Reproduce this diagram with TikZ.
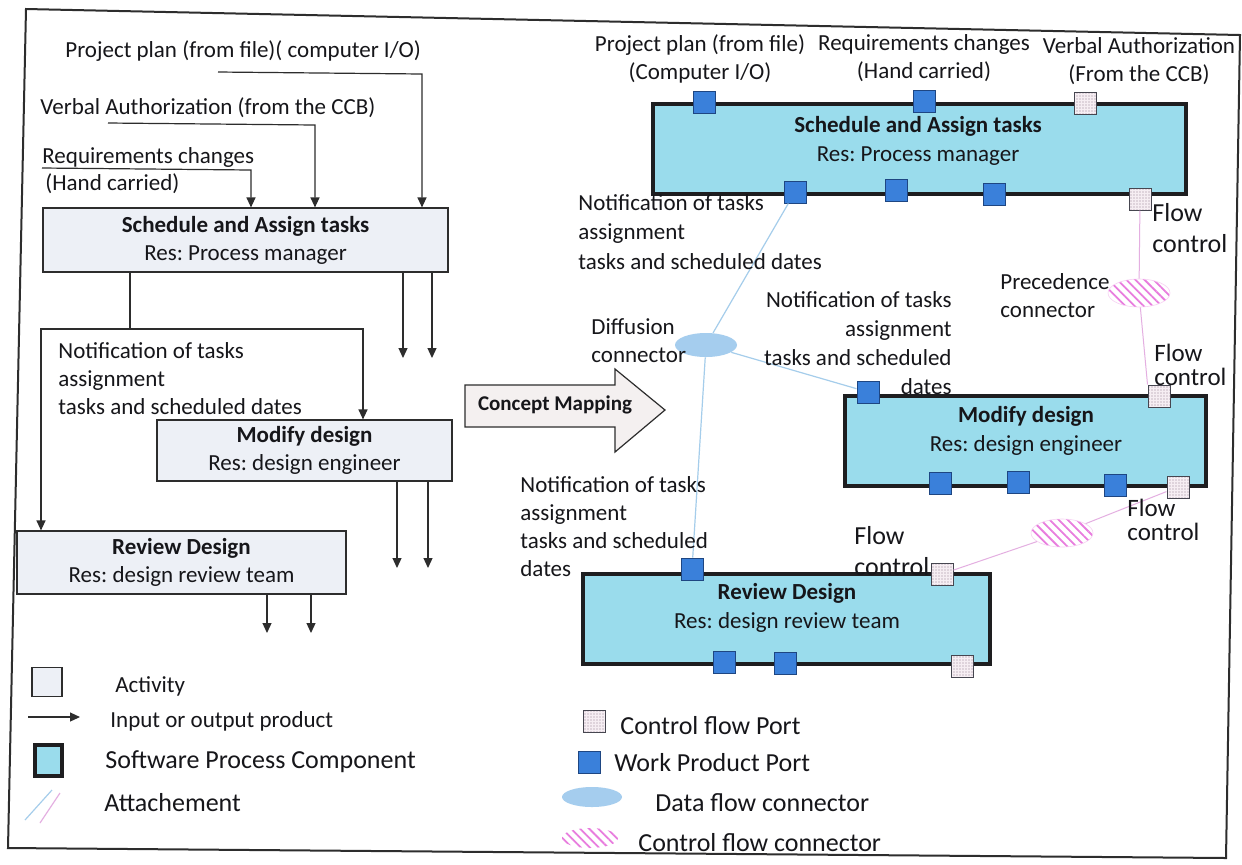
\documentclass[tikz,border=0pt]{standalone}
\usepackage{fontspec}
\setmainfont{Carlito}
\frenchspacing
\usetikzlibrary{arrows.meta,patterns.meta,shapes.geometric}

\definecolor{ink}{RGB}{45,45,45}
\definecolor{textc}{RGB}{22,22,26}
\definecolor{actfill}{RGB}{237,240,246}
\definecolor{spcfill}{RGB}{154,220,236}
\definecolor{spcedge}{RGB}{30,30,32}
\definecolor{portblue}{RGB}{58,128,218}
\definecolor{portedge}{RGB}{30,70,130}
\definecolor{ctrlfill}{RGB}{246,238,243}
\definecolor{dotc}{RGB}{150,128,145}
\definecolor{cportedge}{RGB}{70,70,80}
\definecolor{dataconn}{RGB}{165,205,238}
\definecolor{linkblue}{RGB}{165,205,235}
\definecolor{linkpink}{RGB}{228,175,225}
\definecolor{hatchpink}{RGB}{232,125,222}
\definecolor{mapfill}{RGB}{244,240,240}

\tikzset{
  lbl/.style={font=\fontsize{11.5}{14}\selectfont, inner sep=0pt, text=textc},
  lblbig/.style={font=\fontsize{13}{15.5}\selectfont, inner sep=0pt, text=textc},
  activity/.style={draw=ink, line width=0.6pt, fill=actfill, align=center,
    font=\fontsize{11.5}{14}\selectfont, text=textc, inner sep=0pt},
  spc/.style={draw=spcedge, line width=1.6pt, fill=spcfill, inner sep=0pt},
  spctext/.style={align=center, font=\fontsize{11.5}{14.8}\selectfont, text=textc, inner sep=0pt},
  wport/.style={draw=portedge, line width=0.5pt, fill=portblue, minimum size=11pt, inner sep=0pt},
  cport/.style={draw=cportedge, line width=0.5pt, minimum size=11pt, inner sep=0pt,
    preaction={fill=ctrlfill}, pattern={Dots[radius=0.33pt,distance=1.5pt]}, pattern color=dotc},
  prodarrow/.style={draw=ink, line width=0.6pt, -{Triangle[length=5pt,width=4.5pt]}},
  prodline/.style={draw=ink, line width=0.6pt},
  dlink/.style={draw=linkblue, line width=0.6pt},
  clink/.style={draw=linkpink, line width=0.5pt},
  dconn/.style={ellipse, fill=dataconn, minimum width=31pt, minimum height=12pt, inner sep=0pt},
  cconn/.style={ellipse, minimum width=31pt, minimum height=14pt, inner sep=0pt,
    pattern={Lines[angle=-45,distance=3.2pt,line width=0.9pt]}, pattern color=hatchpink,
    draw=hatchpink!35, line width=0.3pt},
}

\begin{document}
\begin{tikzpicture}[x=0.5pt, y=-0.5pt]
\fill[white] (0,0) rectangle (1242,864);
\useasboundingbox (0,0) rectangle (1242,864);

% outer frame
\draw[ink, line width=1pt] (26,9) -- (1240,35) -- (1226,858) -- (8,848) -- cycle;

% ---------------- activity view ----------------
\node[activity, minimum width=202.5pt, minimum height=32pt] (a1) at (245.5,240)
  {\textbf{Schedule and Assign tasks}\\Res: Process manager};
\node[activity, minimum width=147.5pt, minimum height=30.5pt] (a2) at (304.5,450.5)
  {\textbf{Modify design}\\Res: design engineer};
\node[activity, minimum width=164.5pt, minimum height=31.5pt] (a3) at (181.5,562.5)
  {\textbf{Review Design}\\Res: design review team};

% input labels
\node[lbl, anchor=west] (lpp) at (65,51) {Project plan (from file)( computer I/O)};
\node[lbl, anchor=west] (lva) at (40,108) {Verbal Authorization (from the CCB)};
\node[lbl, anchor=west] (lrc) at (42,157) {Requirements changes};
\node[lbl, anchor=west] (lhc) at (45,184) {(Hand carried)};
\node[lbl, anchor=west, align=left] (lnt) at (58,379)
  {Notification of tasks\\assignment\\tasks and scheduled dates};

% input flows
\coordinate (pp0) at (218,72);  \coordinate (pp1) at (422,74);
\coordinate (va0) at (108,123); \coordinate (va1) at (315,125);
\coordinate (rc0) at (42,168);  \coordinate (rc1) at (251,170);
\draw[prodarrow] (pp0) -- (pp1) -- (pp1 |- a1.north);
\draw[prodarrow] (va0) -- (va1) -- (va1 |- a1.north);
\draw[prodarrow] (rc0) -- (rc1) -- (rc1 |- a1.north);

% notification flow
\coordinate (n0) at (130,329); \coordinate (nL) at (41,329); \coordinate (nR) at (363,329);
\draw[prodline] (n0 |- a1.south) -- (n0);
\draw[prodarrow] (n0) -- (nL) -- (nL |- a3.north);
\draw[prodarrow] (n0) -- (nR) -- (nR |- a2.north);

% output flows
\coordinate (o1) at (403,358); \coordinate (o2) at (432,358);
\coordinate (o3) at (397,568); \coordinate (o4) at (428,568);
\coordinate (o5) at (267,633); \coordinate (o6) at (311,633);
\draw[prodarrow] (o1 |- a1.south) -- (o1);
\draw[prodarrow] (o2 |- a1.south) -- (o2);
\draw[prodarrow] (o3 |- a2.south) -- (o3);
\draw[prodarrow] (o4 |- a2.south) -- (o4);
\draw[prodarrow] (o5 |- a3.south) -- (o5);
\draw[prodarrow] (o6 |- a3.south) -- (o6);

% ---------------- concept mapping arrow ----------------
\draw[ink, line width=0.6pt, fill=mapfill]
  (465,385) -- (615,385) -- (615,369) -- (665,410) -- (615,452) -- (615,427) -- (465,427) -- cycle;
\node[inner sep=0pt, text=textc, font=\bfseries\fontsize{10.5}{12}\selectfont] (cm) at (555,405) {Concept Mapping};

% ---------------- component view ----------------
\node[spc, minimum width=266.5pt, minimum height=45pt] (s1) at (919.5,149) {};
\node[spctext] (s1t) at (918,141) {\textbf{Schedule and Assign tasks}\\Res: Process manager};
\node[spc, minimum width=180.5pt, minimum height=45pt] (m1) at (1025.5,441) {};
\node[spctext] (m1t) at (1026,431) {\textbf{Modify design}\\Res: design engineer};
\node[spc, minimum width=203.5pt, minimum height=45pt] (r1) at (786.5,619) {};
\node[spctext] (r1t) at (787,608) {\textbf{Review Design}\\Res: design review team};

% ports of Schedule and Assign tasks
\node[wport] (st1) at (704,102) {};
\node[wport] (st2) at (924,101) {};
\node[cport] (stc) at (1085,103) {};
\node[wport] (sb1) at (795,192) {};
\node[wport] (sb2) at (896,190) {};
\node[wport] (sb3) at (994,194) {};
\node[cport] (sbc) at (1140,199) {};
% ports of Modify design
\node[wport] (mt1) at (868,392) {};
\node[cport] (mtc) at (1159,396) {};
\node[wport] (mb1) at (940,483) {};
\node[wport] (mb2) at (1018,482) {};
\node[wport] (mb3) at (1115,485) {};
\node[cport] (mbc) at (1178,487) {};
% ports of Review Design
\node[wport] (rt1) at (692,569) {};
\node[cport] (rtc) at (942,574) {};
\node[wport] (rb1) at (724,662) {};
\node[wport] (rb2) at (785,663) {};
\node[cport] (rbc) at (962,666) {};

% connectors
\node[dconn] (dif) at (706,345) {};
\node[cconn] (p1) at (1139,293) {};
\node[cconn] (p2) at (1062,533) {};

\draw[dlink] (sb1) -- (dif);
\draw[dlink] (dif) -- (mt1);
\draw[dlink] (dif) -- (rt1);
\draw[clink] (sbc) -- (p1);
\draw[clink] (p1) -- (mtc.north west);
\draw[clink] (mbc) -- (p2);
\draw[clink] (p2) -- (rtc);

% labels of the component view
\node[lbl, align=center] (rpp) at (700,59) {Project plan (from file)\\(Computer I/O)};
\node[lbl, align=center] (rrc) at (924,58) {Requirements changes\\(Hand carried)};
\node[lbl, align=center] (rva) at (1139,61) {Verbal Authorization\\(From the CCB)};
\node[lbl, anchor=west, align=left, font=\fontsize{11.5}{14.8}\selectfont] (rn1) at (578,232)
  {Notification of tasks\\assignment\\tasks and scheduled dates};
\node[lbl, anchor=east, align=right, font=\fontsize{11.5}{14.5}\selectfont] (rn2) at (952,343)
  {Notification of tasks\\assignment\\tasks and scheduled\\dates};
\node[lbl, anchor=west, align=left] (rn3) at (520,527)
  {Notification of tasks\\assignment\\tasks and scheduled\\dates};
\node[lbl, anchor=west, align=left] (ldif) at (591,341) {Diffusion\\connector};
\node[lbl, anchor=west, align=left] (lprec) at (1000,296) {Precedence\\connector};
\node[lblbig, anchor=west, align=left] (fc1) at (1152,228) {Flow\\control};
\node[lblbig, anchor=west, align=left, font=\fontsize{12.5}{12}\selectfont] (fc2) at (1154,365) {Flow\\control};
\node[lblbig, anchor=west, align=left, font=\fontsize{12.5}{12}\selectfont] (fc3) at (1127,520) {Flow\\control};
\node[lblbig, anchor=west, align=left] (fc4) at (854,551) {Flow\\control};

% ---------------- legend ----------------
\node[activity, minimum width=15pt, minimum height=14.5pt] (kact) at (47,682) {};
\node[lbl, anchor=west] (tact) at (115,686) {Activity};
\coordinate (ka0) at (28,717); \coordinate (ka1) at (80,717);
\draw[prodarrow] (ka0) -- (ka1);
\node[lbl, anchor=west] (tarr) at (110,721) {Input or output product};
\node[spc, minimum width=13.5pt, minimum height=15.5pt] (kspc) at (48.5,760.5) {};
\node[lblbig, anchor=west] (tspc) at (105,762) {Software Process Component};
\coordinate (kb0) at (25,820); \coordinate (kb1) at (52,790);
\coordinate (kp0) at (40,823); \coordinate (kp1) at (60,793);
\draw[dlink] (kb0) -- (kb1);
\draw[clink, line width=0.6pt] (kp0) -- (kp1);
\node[lblbig, anchor=west] (tatt) at (104,803) {Attachement};

\node[cport] (kcp) at (594,721) {};
\node[lblbig, anchor=west] (tcp) at (620,726) {Control flow Port};
\node[wport] (kwp) at (589,762) {};
\node[lblbig, anchor=west] (twp) at (614,763) {Work Product Port};
\node[dconn, minimum width=30pt, minimum height=10pt] (kdc) at (592,797) {};
\node[lblbig, anchor=west] (tdc) at (655,803) {Data flow connector};
\node[cconn, minimum width=28pt, minimum height=10pt, draw=none] (kcc) at (590,838) {};
\node[lblbig, anchor=west] (tcc) at (638,843) {Control flow connector};
\end{tikzpicture}
\end{document}
